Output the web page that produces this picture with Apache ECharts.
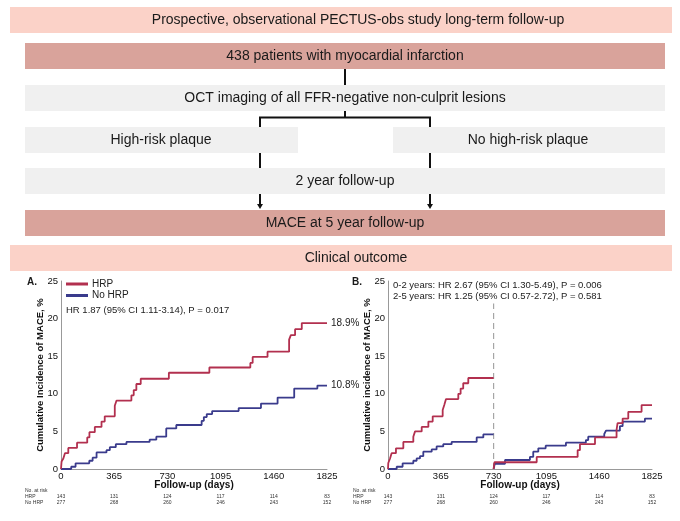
<!DOCTYPE html>
<html>
<head>
<meta charset="utf-8">
<script src="https://cdn.jsdelivr.net/npm/echarts@6/dist/echarts.min.js"></script>
<style>
  html, body { margin: 0; padding: 0; background: #fff; }
  #main { width: 680px; height: 521px; }
</style>
</head>
<body>
<div id="main"></div>
<script>
// 축 눈금 / 위험군 수
const tickDays = [0, 365, 730, 1095, 1460, 1825];
const riskHRP = [143, 131, 124, 117, 114, 83];
const riskNoHRP = [277, 268, 260, 246, 243, 152];

// Panel A: 누적 발생률 (day, %)
const hrpA = [[0,0],[4,1.0],[16,1.4],[27,2.1],[50,2.8],[110,3.5],[180,4.2],[195,4.9],[232,5.6],[278,6.3],[300,7.0],[369,8.4],[381,9.1],[483,9.8],[499,10.5],[517,11.3],[547,12.0],[740,12.8],[1018,13.5],[1299,14.1],[1315,14.9],[1417,15.6],[1565,17.2],[1577,17.8],[1606,18.6],[1652,19.4],[1825,19.4]];
const noHrpA = [[0,0],[70,0.3],[100,0.75],[194,1.1],[217,1.5],[244,2.2],[312,2.5],[335,2.9],[376,3.3],[449,3.6],[608,3.9],[654,4.3],[722,5.4],[791,5.85],[965,6.4],[980,6.9],[1000,7.3],[1037,7.7],[1219,8.1],[1372,8.7],[1486,9.5],[1600,10.7],[1759,11.1],[1825,11.1]];
const endLabelsA = ["18.9%", "10.8%"];

// Panel B: landmark 분석 (0-2년, 2-5년)
const landmarkDay = 730;
const landmarkTop = 22;
const hrpB1 = [[0,0],[2,0.8],[14,1.4],[25,2.1],[55,2.75],[106,3.6],[175,4.3],[187,5.0],[233,5.6],[279,6.3],[309,7.0],[378,7.85],[389,8.5],[401,9.3],[486,10.0],[502,10.7],[520,11.4],[555,12.1],[730,12.1]];
const noHrpB1 = [[0,0],[60,0.3],[101,0.75],[175,1.1],[198,1.4],[221,1.7],[244,2.3],[302,2.6],[336,3.0],[382,3.3],[440,3.6],[613,4.2],[659,4.6],[730,4.6]];
const hrpB2 = [[730,0],[736,0.9],[1028,1.6],[1311,2.5],[1327,3.3],[1431,4.2],[1580,5.2],[1587,6.1],[1622,6.7],[1661,7.6],[1753,8.5],[1825,8.5]];
const noHrpB2 = [[730,0],[738,0.7],[809,1.2],[981,1.6],[1004,2.3],[1039,2.75],[1090,3.1],[1230,3.5],[1368,3.85],[1384,4.3],[1495,4.65],[1507,5.1],[1603,5.7],[1622,6.3],[1776,6.7],[1825,6.7]];

const RED = "#b2304f";
const BLUE = "#3a3b8c";
const FONT = "Liberation Sans, Arial, sans-serif";

const chart = echarts.init(document.getElementById("main"));

// 공통 축 설정
function xAxisFor(gridIndex) {
  return {
    gridIndex, type: "value", min: 0, max: 1825, interval: 365,
    name: "Follow-up (days)", nameLocation: "middle", nameGap: 11, nameMoveOverlap: false,
    nameTextStyle: { fontFamily: FONT, fontSize: 10, fontWeight: "bold", color: "#111" },
    axisLine: { lineStyle: { color: "#999", width: 1 } },
    axisTick: { show: false },
    axisLabel: { fontFamily: FONT, fontSize: 9.5, color: "#111", margin: 2, formatter: (v) => String(v) },
    splitLine: { show: false },
  };
}
function yAxisFor(gridIndex, name) {
  return {
    gridIndex, type: "value", min: 0, max: 25, interval: 5,
    name, nameLocation: "middle", nameGap: 16, nameRotate: 90, nameMoveOverlap: false,
    nameTextStyle: { fontFamily: FONT, fontSize: 9.5, fontWeight: "bold", color: "#111" },
    axisLine: { show: true, lineStyle: { color: "#999", width: 1 } },
    axisTick: { show: false },
    axisLabel: { fontFamily: FONT, fontSize: 9.5, color: "#111", margin: 3 },
    splitLine: { show: false },
  };
}
function curve(name, data, color, xi, extra) {
  return Object.assign({
    name, type: "line", step: "end", data, xAxisIndex: xi, yAxisIndex: xi,
    symbol: "none", lineStyle: { color, width: 1.8 }, itemStyle: { color },
    animation: false, silent: true,
  }, extra || {});
}
function endLabel(text) {
  return { show: true, formatter: text, distance: 4, fontFamily: FONT, fontSize: 10, color: "#222" };
}

chart.setOption({
  backgroundColor: "#fff",
  animation: false,
  grid: [
    { left: 61, top: 281, width: 266, height: 188 },
    { left: 388, top: 281, width: 264, height: 188 },
  ],
  xAxis: [xAxisFor(0), xAxisFor(1)],
  yAxis: [yAxisFor(0, "Cumulative Incidence of MACE, %"), yAxisFor(1, "Cumulative incidence of MACE, %")],
  legend: {
    data: ["HRP", "No HRP"], left: 66, top: 279, orient: "vertical",
    icon: "rect", itemWidth: 22, itemHeight: 3, itemGap: 1.5, padding: 0,
    textStyle: { fontFamily: FONT, fontSize: 10, color: "#222", lineHeight: 10, padding: [0, 0, 0, -1] },
    selectedMode: false,
  },
  series: [
    curve("No HRP", noHrpA, BLUE, 0, { endLabel: endLabel(endLabelsA[1]) }),
    curve("HRP", hrpA, RED, 0, { endLabel: endLabel(endLabelsA[0]) }),
    curve("No HRP", noHrpB1, BLUE, 1),
    curve("HRP", hrpB1, RED, 1),
    curve("No HRP", noHrpB2, BLUE, 1),
    curve("HRP", hrpB2, RED, 1),
    {
      type: "line", xAxisIndex: 1, yAxisIndex: 1, symbol: "none", silent: true,
      data: [[landmarkDay, 0], [landmarkDay, landmarkTop]],
      lineStyle: { color: "#a6a6a6", width: 1.2, type: [6, 4] }, z: 1,
    },
  ],
});

// 플로우차트 도형
const g = [];
function box(x, y, w, h, fill) {
  g.push({ type: "rect", shape: { x, y, width: w, height: h }, style: { fill }, silent: true });
}
function label(text, x, y, size, opts) {
  g.push(Object.assign({
    type: "text", x, y, silent: true,
    style: Object.assign({ text, fontFamily: FONT, fontSize: size, fill: "#1a1a1a", align: "center", verticalAlign: "middle" }, (opts || {})),
  }));
}
function seg(x1, y1, x2, y2) {
  g.push({ type: "line", shape: { x1, y1, x2, y2 }, style: { stroke: "#111", lineWidth: 2 }, silent: true });
}
function arrow(x, yTop, yTip) {
  seg(x, yTop, x, yTip - 4);
  g.push({ type: "polygon", shape: { points: [[x - 3, yTip - 5], [x + 3, yTip - 5], [x, yTip]] }, style: { fill: "#111" }, silent: true });
}

const PINK = "#fbd2c8", ROSE = "#d9a39b", GREY = "#f0f0f0";
box(10, 7, 662, 26, PINK);
label("Prospective, observational PECTUS-obs study long-term follow-up", 358, 20, 14);
box(25, 43, 640, 26, ROSE);
label("438 patients with myocardial infarction", 345, 56, 14);
seg(345, 69, 345, 85);
box(25, 85, 640, 26, GREY);
label("OCT imaging of all FFR-negative non-culprit lesions", 345, 98, 14);
seg(345, 111, 345, 117.5);
seg(259, 117.5, 431, 117.5);
seg(260, 117, 260, 127);
seg(430, 117, 430, 127);
box(25, 127, 273, 26, GREY);
label("High-risk plaque", 161, 140, 14);
box(393, 127, 272, 26, GREY);
label("No high-risk plaque", 528, 140, 14);
seg(260, 153, 260, 168);
seg(430, 153, 430, 168);
box(25, 168, 640, 26, GREY);
label("2 year follow-up", 345, 181, 14);
arrow(260, 194, 209);
arrow(430, 194, 209);
box(25, 210, 640, 26, ROSE);
label("MACE at 5 year follow-up", 345, 223, 14);
box(10, 245, 662, 26, PINK);
label("Clinical outcome", 356, 258, 14);

// 패널 라벨 / 통계 문구
label("A.", 27, 282, 10, { align: "left", fontWeight: "bold" });
label("B.", 352, 282, 10, { align: "left", fontWeight: "bold" });
label("HR 1.87 (95% CI 1.11-3.14), P = 0.017", 66, 310, 9.5, { align: "left", fill: "#222" });
label("0-2 years: HR 2.67 (95% CI 1.30-5.49), P = 0.006", 393, 285, 9.5, { align: "left", fill: "#222" });
label("2-5 years: HR 1.25 (95% CI 0.57-2.72), P = 0.581", 393, 296, 9.5, { align: "left", fill: "#222" });

// 위험군 수 표 (축 스케일로 x 위치 계산)
[[0, 25], [1, 353]].forEach(([xi, left]) => {
  label("No. at risk", left, 491, 5, { align: "left", fill: "#333" });
  label("HRP", left, 497, 5, { align: "left", fill: "#333" });
  label("No HRP", left, 503, 5, { align: "left", fill: "#333" });
  tickDays.forEach((d, i) => {
    const px = chart.convertToPixel({ xAxisIndex: xi }, d);
    label(String(riskHRP[i]), px, 497, 5, { fill: "#333" });
    label(String(riskNoHRP[i]), px, 503, 5, { fill: "#333" });
  });
});

chart.setOption({ graphic: g });
</script>
</body>
</html>
